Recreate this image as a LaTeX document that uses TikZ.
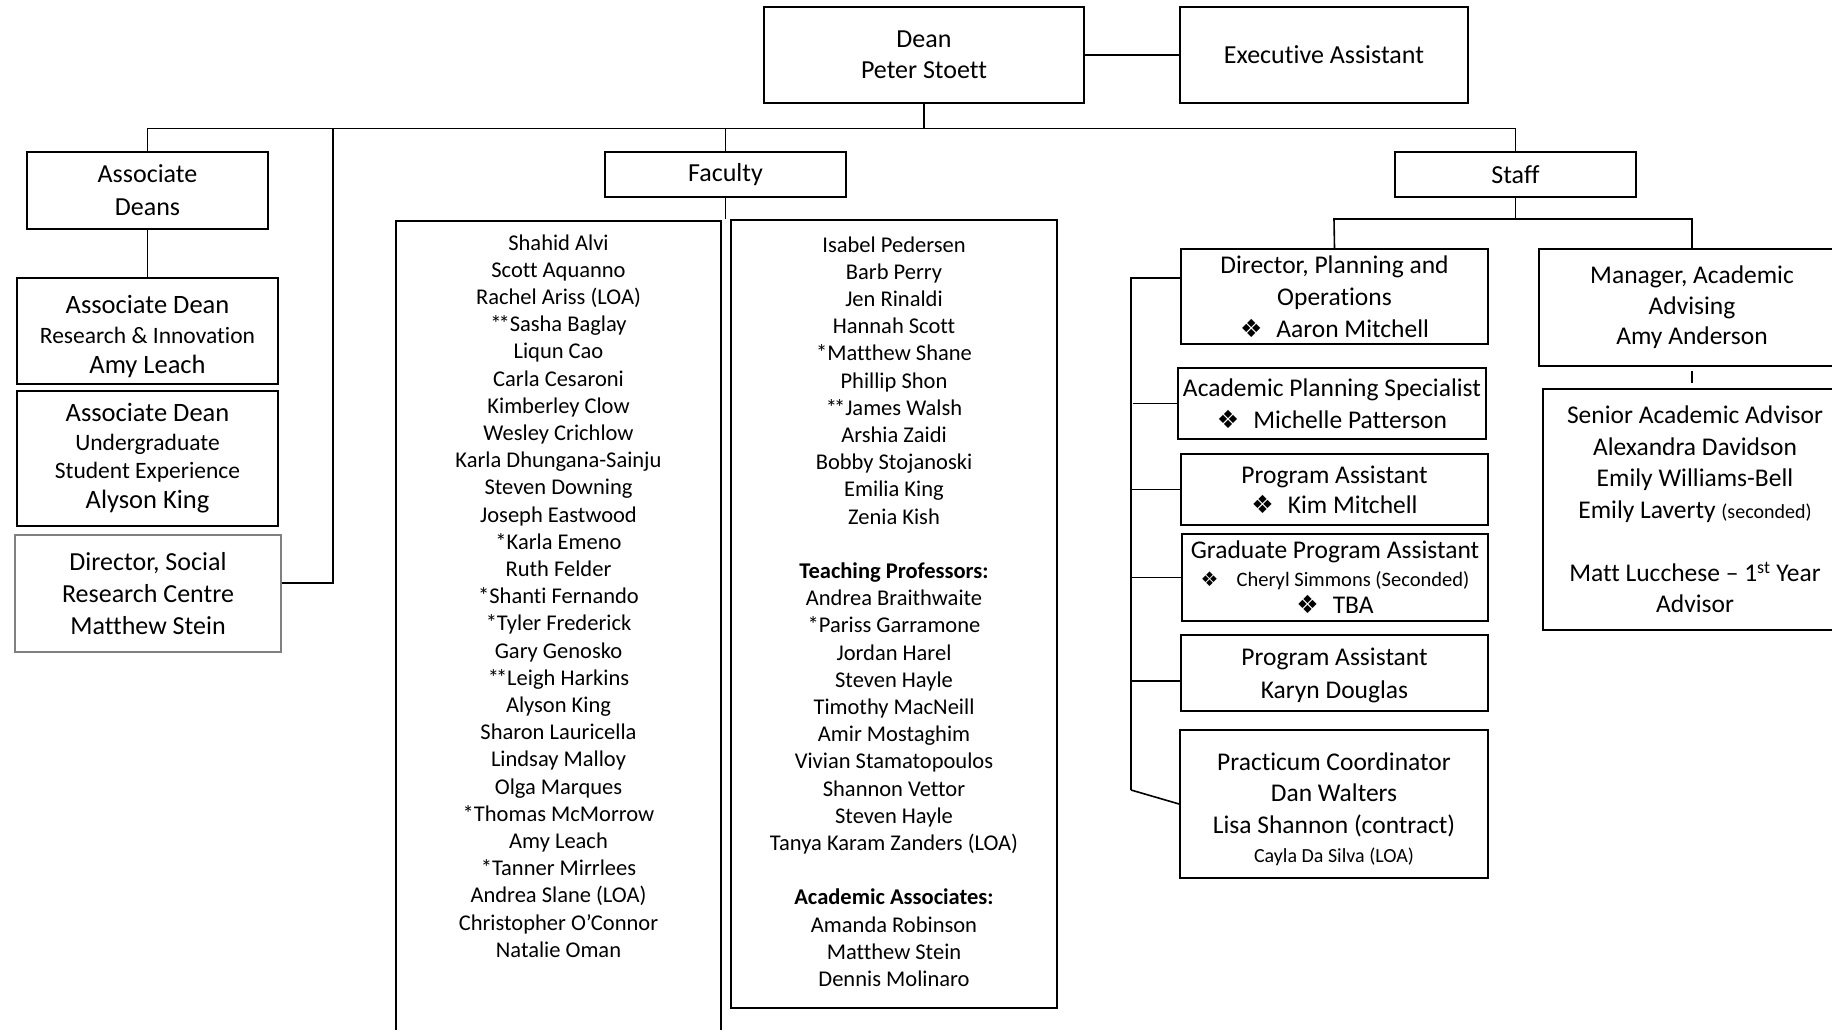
\documentclass[tikz,border=0pt]{standalone}
\usepackage{fontspec}
\setmainfont{Carlito}[Ligatures={TeX,CommonOff,ContextualOff}]
\newfontfamily\symf{DejaVu Sans}
\newcommand\fsz[2]{\fontsize{#1pt}{#2pt}\selectfont}
\newcommand\dia{{\symf\fontsize{25pt}{25pt}\selectfont ❖}}
\newcommand\diasm{{\symf\fontsize{20pt}{20pt}\selectfont ❖}}
\newcommand\dstar{*\kern-3pt*}
\begin{document}
\begin{tikzpicture}[x=1pt,y=-1pt,
  box/.style={draw, line width=1.8pt, inner sep=0pt, align=center, rectangle},
  graybox/.style={draw=black!50, line width=1.3pt, inner sep=0pt, align=center, rectangle},
  txt/.style={inner sep=0pt, align=center},
  conn/.style={line width=1.6pt},
  thin/.style={line width=1.3pt}
]
\clip (0,0) rectangle (1832,1030);
\fill[white] (0,0) rectangle (1832,1030);

% top level
\node[box, minimum width=320pt, minimum height=96pt, font=\fsz{26}{31}] (dean) at (924,55) {Dean\\Peter Stoett};
\node[box, minimum width=288pt, minimum height=96pt, font=\fsz{26}{31}] (ea) at (1324,55) {Executive Assistant};
\node[box, minimum width=241pt, minimum height=77pt, font=\fsz{26}{33}] (assoc) at (147.5,190.5) {Associate\\Deans};
\node[box, minimum width=241pt, minimum height=45pt, font=\fsz{26}{31}] (fac) at (725.5,174.5) {Faculty};
\node[box, minimum width=241pt, minimum height=45pt, font=\fsz{26}{31}] (staff) at (1515.5,174.5) {Staff};

% associate deans column
\node[box, minimum width=261pt, minimum height=106pt] (adri) at (147.5,331) {};
\node[txt, font=\fsz{26.5}{30}] (adrit) at (147.5,337)
  {Associate Dean\\{\fsz{23.5}{30}Research \& Innovation}\\Amy Leach};
\node[box, minimum width=261pt, minimum height=135pt, font=\fsz{26.5}{30}] (adug) at (147.5,458.5)
  {Associate Dean\\[-1pt]{\fsz{23.5}{28}Undergraduate}\\[-2pt]{\fsz{23.5}{28}Student Experience}\\Alyson King};
\node[graybox, minimum width=266pt, minimum height=117pt, font=\fsz{26}{32}] (srd) at (148,593.5)
  {Director, Social\\Research Centre\\Matthew Stein};

% faculty columns
\node[box, minimum width=325pt, minimum height=819pt] (col1) at (558.5,630.5) {};
\node[txt, font=\fsz{22.5}{27.2}] (col1t) at (558.5,596)
  {Shahid Alvi\\Scott Aquanno\\Rachel Ariss (LOA)\\\dstar Sasha Baglay\\Liqun Cao\\Carla Cesaroni\\Kimberley Clow\\Wesley Crichlow\\Karla Dhungana-Sainju\\Steven Downing\\Joseph Eastwood\\*Karla Emeno\\Ruth Felder\\*Shanti Fernando\\*Tyler Frederick\\Gary Genosko\\\dstar Leigh Harkins\\Alyson King\\Sharon Lauricella\\Lindsay Malloy\\Olga Marques\\*Thomas McMorrow\\Amy Leach\\*Tanner Mirrlees\\Andrea Slane (LOA)\\Christopher O’Connor\\Natalie Oman};
\node[box, minimum width=326pt, minimum height=788pt] (col2) at (894,614) {};
\node[txt, font=\fsz{22.5}{27.2}] (col2t) at (894,611.5)
  {Isabel Pedersen\\Barb Perry\\Jen Rinaldi\\Hannah Scott\\*Matthew Shane\\Phillip Shon\\\dstar James Walsh\\Arshia Zaidi\\Bobby Stojanoski\\Emilia King\\Zenia Kish\\[27.2pt]\textbf{Teaching Professors:}\\Andrea Braithwaite\\*Pariss Garramone\\Jordan Harel\\Steven Hayle\\Timothy MacNeill\\Amir Mostaghim\\Vivian Stamatopoulos\\Shannon Vettor\\Steven Hayle\\Tanya Karam Zanders (LOA)\\[27.2pt]\textbf{Academic Associates:}\\Amanda Robinson\\Matthew Stein\\Dennis Molinaro};

% staff
\node[box, minimum width=307pt, minimum height=95pt, font=\fsz{25.5}{32}] (dpo) at (1334.5,296.5)
  {Director, Planning and\\Operations\\\dia\hspace{14pt}Aaron Mitchell};
\node[box, minimum width=308pt, minimum height=71pt, font=\fsz{25.5}{32}] (aps) at (1332,403.5)
  {Academic Planning Specialist\\\dia\hspace{14pt}Michelle Patterson};
\node[box, minimum width=307pt, minimum height=71pt, font=\fsz{25.5}{30}] (pa1) at (1334.5,489.5)
  {Program Assistant\\\dia\hspace{14pt}Kim Mitchell};
\node[box, minimum width=306pt, minimum height=87pt, font=\fsz{25.5}{27.5}] (gpa) at (1335,577.5)
  {Graduate Program Assistant\\{\fsz{20.5}{27.5}\diasm\hspace{18pt}Cheryl Simmons (Seconded)}\\\dia\hspace{14pt}TBA};
\node[box, minimum width=307pt, minimum height=76pt] (pa2) at (1334.5,673) {};
\node[txt, font=\fsz{25.5}{32.5}] (pa2t) at (1334.5,675.5) {Program Assistant\\Karyn Douglas};
\node[box, minimum width=308pt, minimum height=148pt] (prac) at (1334,804) {};
\node[txt, font=\fsz{25.5}{31.5}] (pract) at (1334,809)
  {Practicum Coordinator\\Dan Walters\\Lisa Shannon (contract)\\[-2.5pt]{\fsz{20}{28}Cayla Da Silva (LOA)}};
\node[box, minimum width=306pt, minimum height=117pt, font=\fsz{25.5}{30.5}] (mgr) at (1692,307.5)
  {Manager, Academic\\Advising\\Amy Anderson};
\node[box, minimum width=304pt, minimum height=241pt, font=\fsz{25.5}{31.5}] (sen) at (1695,509.5)
  {Senior Academic Advisor\\Alexandra Davidson\\Emily Williams-Bell\\Emily Laverty {\fsz{20}{24}(seconded)}\\[31.5pt]Matt Lucchese – 1\raisebox{-1pt}{\textsuperscript{st}} Year\\Advisor};

% coordinates
\coordinate (busL) at (147.5,128.5);
\coordinate (busR) at (1515.5,128.5);
\coordinate (srdk) at (333,128.5);
\coordinate (b2L) at (1334,219);
\coordinate (b2R) at (1692,219);
\coordinate (sv) at (1131,278);
\coordinate (sb) at (1131,790);
\coordinate (tk1) at (1692,371);
\coordinate (tk2) at (1692,383);

% connectors
\draw[conn] (dean.east) -- (ea.west);
\draw[conn] (dean.south) -- (dean.south |- busL);
\draw[conn] (assoc.north) -- (busL) -- (busR) -- (staff.north);
\draw[conn] (fac.north) -- (fac.north |- busL);
\draw[thin] (fac.south) -- (fac.south |- col2.north);
\draw[conn] ([yshift=10.5pt]srd.east) -| (srdk);
\draw[conn] (assoc.south) -- (adri.north);
\draw[conn] (staff.south) -- (staff.south |- b2L);
\draw[conn] (dpo.north) -- (b2L) -- (b2R) -- (mgr.north);
\draw[conn] (sb) -- (sv) -- ([yshift=18.5pt]dpo.west);
\draw[conn] ([xshift=2pt]sv |- aps.west) -- (aps.west);
\draw[conn] (sv |- pa1.west) -- (pa1.west);
\draw[conn] (sv |- gpa.west) -- (gpa.west);
\draw[conn] (sv |- 0,681) -- ([yshift=-8pt]pa2.west);
\draw[conn] (sb) -- (prac.west);
\draw[thin] (tk1) -- (tk2);
\end{tikzpicture}
\end{document}
